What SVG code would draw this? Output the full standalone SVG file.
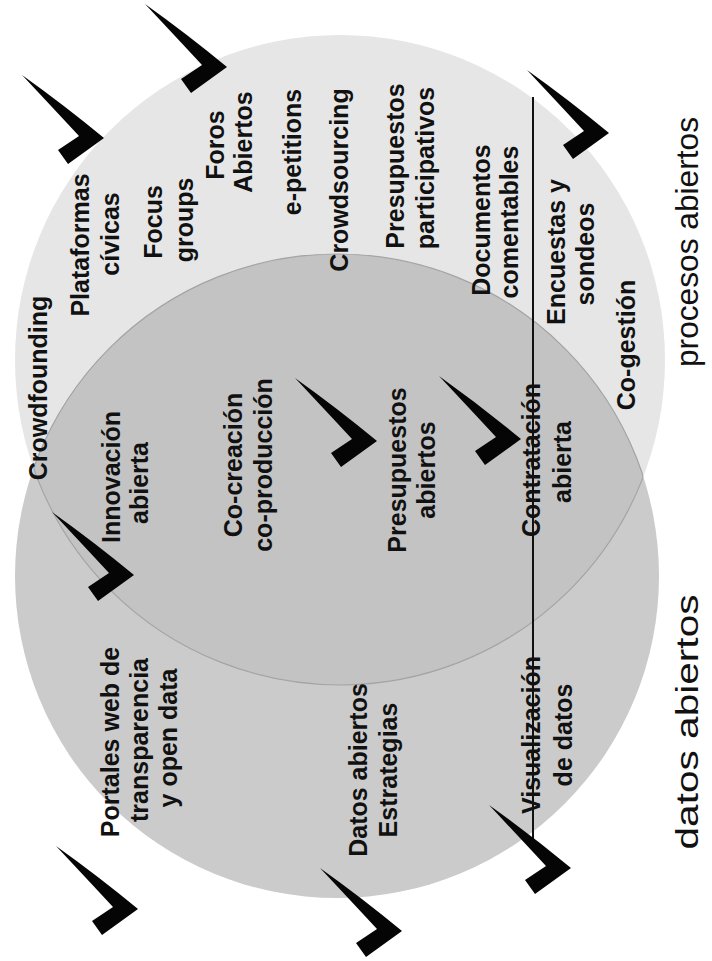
<svg xmlns="http://www.w3.org/2000/svg" xmlns:xlink="http://www.w3.org/1999/xlink" width="712" height="961" viewBox="0 0 712 961">
<style>
.l{font-family:"Liberation Sans",Arial,sans-serif;font-size:25px;font-weight:bold;fill:#111;text-anchor:middle}
.b{font-family:"Liberation Sans",Arial,sans-serif;font-size:32px;fill:#111;text-anchor:middle}
.arc{fill:none;stroke:#a4a4a4;stroke-width:1.2}
</style>
<defs>
<path id="chk" d="M0,0 Q42,30 82,63 L46,89 L36,75 L57,61 Q31,33 0,0 Z" fill="#050505"/>
<clipPath id="cu"><circle cx="340" cy="360" r="325"/></clipPath>
<clipPath id="cl"><circle cx="337" cy="576" r="322"/></clipPath>
</defs>
<rect width="712" height="961" fill="#ffffff"/>
<g id="set-procesos-abiertos">
<circle cx="340" cy="360" r="325" fill="#e6e6e6"/>
</g>
<g id="set-datos-abiertos">
<circle cx="337" cy="576" r="322" fill="#cbcbcb"/>
</g>
<g id="interseccion">
<circle cx="337" cy="576" r="322" fill="#c3c3c3" clip-path="url(#cu)"/>
<circle class="arc" cx="340" cy="360" r="325" clip-path="url(#cl)"/>
<circle class="arc" cx="337" cy="576" r="322" clip-path="url(#cu)"/>
</g>
<g id="connectors">
<line x1="533" y1="97" x2="533" y2="840" stroke="#111" stroke-width="2"/>
</g>
<g id="checks">
<use xlink:href="#chk" x="145" y="4"/>
<use xlink:href="#chk" x="22" y="75"/>
<use xlink:href="#chk" x="527" y="70"/>
<use xlink:href="#chk" x="52" y="512"/>
<use xlink:href="#chk" x="295" y="378"/>
<use xlink:href="#chk" x="439" y="376"/>
<use xlink:href="#chk" x="56" y="846"/>
<use xlink:href="#chk" x="320" y="868"/>
<use xlink:href="#chk" x="489" y="805"/>
</g>
<g id="crowdfounding"><text class="l" transform="translate(38,388) rotate(-90)" dy="9">Crowdfounding</text></g>
<g id="plataformas-civicas">
<text class="l" transform="translate(80,245) rotate(-90)" dy="9">Plataformas</text>
<text class="l" transform="translate(110,234) rotate(-90)" dy="9">cívicas</text>
</g>
<g id="focus-groups">
<text class="l" transform="translate(153,222) rotate(-90)" dy="9">Focus</text>
<text class="l" transform="translate(184,220) rotate(-90)" dy="9">groups</text>
</g>
<g id="foros-abiertos">
<text class="l" transform="translate(215,145) rotate(-90)" dy="9">Foros</text>
<text class="l" transform="translate(243,142) rotate(-90)" dy="9">Abiertos</text>
</g>
<g id="e-petitions"><text class="l" transform="translate(292,152) rotate(-90)" dy="9">e-petitions</text></g>
<g id="crowdsourcing"><text class="l" transform="translate(339,180) rotate(-90)" dy="9">Crowdsourcing</text></g>
<g id="presupuestos-participativos">
<text class="l" transform="translate(395,166) rotate(-90)" dy="9">Presupuestos</text>
<text class="l" transform="translate(425,168) rotate(-90)" dy="9">participativos</text>
</g>
<g id="documentos-comentables">
<text class="l" transform="translate(481,220) rotate(-90)" dy="9">Documentos</text>
<text class="l" transform="translate(509,222) rotate(-90)" dy="9">comentables</text>
</g>
<g id="encuestas-sondeos">
<text class="l" transform="translate(556,252) rotate(-90)" dy="9">Encuestas y</text>
<text class="l" transform="translate(585,254) rotate(-90)" dy="9">sondeos</text>
</g>
<g id="co-gestion"><text class="l" transform="translate(626,345) rotate(-90)" dy="9">Co-gestión</text></g>
<g id="procesos-abiertos"><text class="b" transform="translate(687,242) rotate(-90)" dy="11" textLength="250" lengthAdjust="spacingAndGlyphs">procesos abiertos</text></g>
<g id="innovacion-abierta">
<text class="l" transform="translate(111,477) rotate(-90)" dy="9">Innovación</text>
<text class="l" transform="translate(139,483) rotate(-90)" dy="9">abierta</text>
</g>
<g id="co-creacion">
<text class="l" transform="translate(233,465) rotate(-90)" dy="9">Co-creación</text>
<text class="l" transform="translate(263,465) rotate(-90)" dy="9">co-producción</text>
</g>
<g id="presupuestos-abiertos">
<text class="l" transform="translate(397,470) rotate(-90)" dy="9">Presupuestos</text>
<text class="l" transform="translate(426,470) rotate(-90)" dy="9">abiertos</text>
</g>
<g id="contratacion-abierta">
<text class="l" transform="translate(531,460) rotate(-90)" dy="9">Contratación</text>
<text class="l" transform="translate(562,462) rotate(-90)" dy="9">abierta</text>
</g>
<g id="portales">
<text class="l" transform="translate(110,742) rotate(-90)" dy="9">Portales web de</text>
<text class="l" transform="translate(139,740) rotate(-90)" dy="9">transparencia</text>
<text class="l" transform="translate(168,738) rotate(-90)" dy="9">y open data</text>
</g>
<g id="datos-abiertos-estrategias">
<text class="l" transform="translate(358,770) rotate(-90)" dy="9">Datos abiertos</text>
<text class="l" transform="translate(388,770) rotate(-90)" dy="9">Estrategias</text>
</g>
<g id="visualizacion">
<text class="l" transform="translate(531,735) rotate(-90)" dy="9">Visualización</text>
<text class="l" transform="translate(563,735) rotate(-90)" dy="9">de datos</text>
</g>
<g id="datos-abiertos"><text class="b" transform="translate(687,722) rotate(-90)" dy="11" textLength="255" lengthAdjust="spacingAndGlyphs">datos abiertos</text></g>
</svg>
